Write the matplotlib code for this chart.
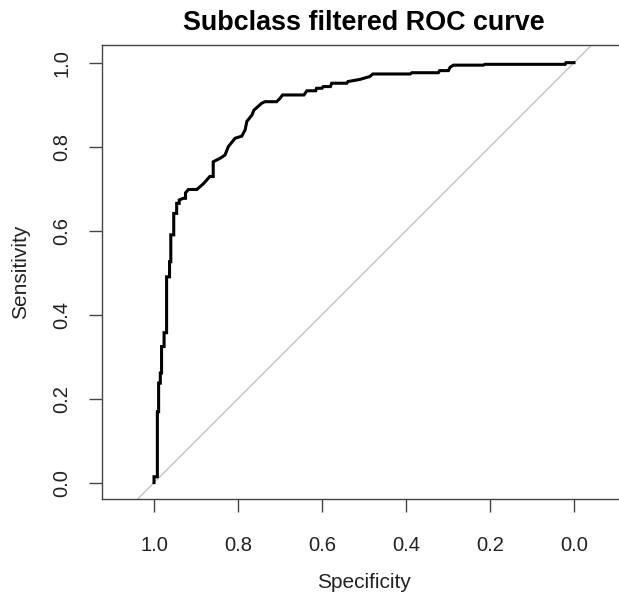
import matplotlib
matplotlib.use("Agg")
import matplotlib.pyplot as plt

plt.rcParams['font.family'] = ['Liberation Sans', 'DejaVu Sans']

title = "Subclass filtered ROC curve"
x_label = "Specificity"
y_label = "Sensitivity"
tick_values = [0.0, 0.2, 0.4, 0.6, 0.8, 1.0]
tick_labels = ["0.0", "0.2", "0.4", "0.6", "0.8", "1.0"]

specificity = [1.000, 1.000, 0.992, 0.992, 0.989, 0.989, 0.985, 0.985, 0.982, 0.982,
               0.976, 0.976, 0.970, 0.970, 0.963, 0.963, 0.960, 0.960, 0.953, 0.953,
               0.946, 0.946, 0.940, 0.940, 0.930, 0.925, 0.925, 0.918, 0.898, 0.890,
               0.882, 0.875, 0.867, 0.859, 0.859, 0.843, 0.831, 0.823, 0.807, 0.791,
               0.783, 0.779, 0.767, 0.762, 0.744, 0.736, 0.708, 0.700, 0.694, 0.643,
               0.636, 0.615, 0.613, 0.600, 0.597, 0.580, 0.577, 0.541, 0.538, 0.510,
               0.486, 0.479, 0.390, 0.386, 0.323, 0.320, 0.299, 0.295, 0.287, 0.216,
               0.212, 0.021, 0.019, 0.000]
sensitivity = [0.000, 0.014, 0.014, 0.169, 0.169, 0.237, 0.237, 0.261, 0.261, 0.324,
               0.324, 0.357, 0.357, 0.490, 0.490, 0.526, 0.526, 0.590, 0.590, 0.641,
               0.641, 0.665, 0.665, 0.673, 0.677, 0.677, 0.690, 0.698, 0.698, 0.705,
               0.712, 0.720, 0.729, 0.729, 0.764, 0.772, 0.780, 0.800, 0.820, 0.825,
               0.840, 0.860, 0.875, 0.887, 0.903, 0.907, 0.907, 0.915, 0.923, 0.923,
               0.933, 0.933, 0.939, 0.939, 0.943, 0.943, 0.951, 0.951, 0.955, 0.960,
               0.967, 0.973, 0.973, 0.976, 0.976, 0.981, 0.981, 0.989, 0.994, 0.994,
               0.996, 0.996, 1.000, 1.000]

W, H = 619, 597
fig = plt.figure(figsize=(W / 100, H / 100), dpi=100)
left_px, right_px, top_px, bottom_px = 101.5, 626.5, 45, 499
ax = fig.add_axes([left_px / W, 1 - bottom_px / H, (right_px - left_px) / W, (bottom_px - top_px) / H])

ax.set_xlim(1.125, -0.125)
ax.set_ylim(-0.039, 1.042)

ax.axline((1, 0), (0, 1), color='#bebebe', lw=0.9, zorder=1)
ax.plot(specificity, sensitivity, color='black', lw=2.2, solid_joinstyle='miter', zorder=2)

for side in ['left', 'bottom', 'top']:
    ax.spines[side].set_color('#444444')
    ax.spines[side].set_linewidth(1.0)
ax.spines['right'].set_visible(False)

ax.set_xticks(tick_values)
ax.set_xticklabels(tick_labels)
ax.set_yticks(tick_values)
ax.set_yticklabels(tick_labels, rotation=90, va='center')
ax.tick_params(axis='both', length=9.5, width=1.0, color='#444444', labelsize=14.5,
               labelcolor='#222222')
ax.tick_params(axis='x', pad=17)
ax.tick_params(axis='y', pad=12)

ax.set_title(title, fontsize=19.4, fontweight='bold', pad=11)
ax.set_xlabel(x_label, fontsize=15, labelpad=13, color='#222222')
ax.set_ylabel(y_label, fontsize=15, labelpad=16, color='#222222')

fig.savefig("out.png", dpi=100)
